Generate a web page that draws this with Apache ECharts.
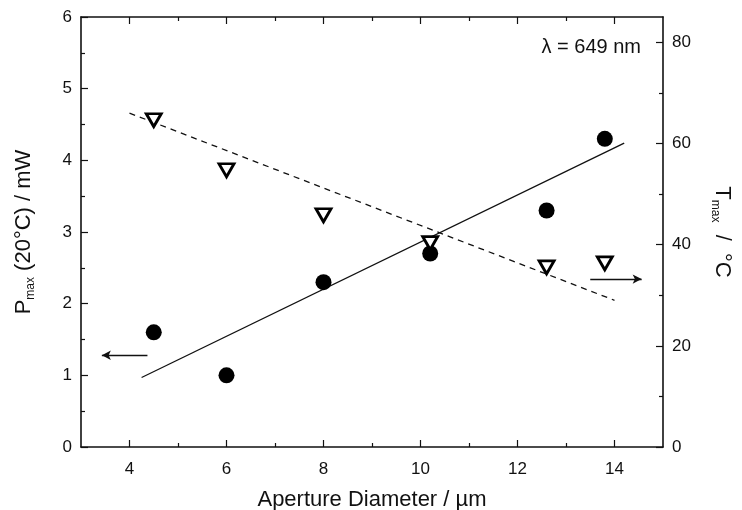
<!DOCTYPE html>
<html>
<head>
<meta charset="utf-8">
<script src="https://cdn.jsdelivr.net/npm/echarts@6/dist/echarts.min.js"></script>
<style>
  html, body { margin: 0; padding: 0; background: #fff; }
  #chart { width: 742px; height: 510px; }
</style>
</head>
<body>
<div id="chart"></div>
<script>
// aperture diameter (um)
const diameters = [4.5, 6, 8, 10.2, 12.6, 13.8];
// P_max at 20 C (mW), left axis
const powerValues = [1.6, 1.0, 2.3, 2.7, 3.3, 4.3];
// T_max (C), right axis
const tempValues = [64.6, 54.7, 45.8, 40.3, 35.5, 36.3];
// linear fit endpoints
const powerFit = [[4.25, 0.97], [14.2, 4.24]];
const tempFit = [[4.0, 66.0], [14.0, 29.0]];
// axis indicator arrows [from, to]
const powerArrow = [[4.37, 1.28], [3.43, 1.28]];
const tempArrow = [[13.5, 33.2], [14.56, 33.2]];
// tick positions
const xMajorTicks = [4, 6, 8, 10, 12, 14];
const xMinorTicks = [5, 7, 9, 11, 13];
const tempMajorTicks = [0, 20, 40, 60, 80];
const tempMinorTicks = [10, 30, 50, 70];

const FONT = 'Liberation Sans, Arial, sans-serif';
const INK = '#111';

const powerPoints = diameters.map((d, i) => [d, powerValues[i]]);
const tempPoints = diameters.map((d, i) => [d, tempValues[i]]);

// shared look for the boxed frame axes
function frameAxis(extra) {
  return Object.assign({
    type: 'value',
    axisLine: { show: true, onZero: false, lineStyle: { color: INK, width: 1.6 } },
    axisTick: { show: true, inside: true, length: 7, lineStyle: { color: INK, width: 1.2 } },
    splitLine: { show: false },
    axisLabel: { color: INK, fontSize: 17, fontFamily: FONT, margin: 9 },
    nameTextStyle: { color: INK, fontSize: 22, fontFamily: FONT }
  }, extra);
}

// x axis: major ticks on even values, minor ticks on odd ones, top and bottom
function xFrame(position, major) {
  const vals = major ? xMajorTicks : xMinorTicks;
  return frameAxis({
    min: 3, max: 15, position: position,
    axisLine: { show: major, onZero: false, lineStyle: { color: INK, width: 1.6 } },
    axisTick: { show: true, inside: true, length: major ? 7 : 4, customValues: vals, lineStyle: { color: INK, width: 1.2 } },
    axisLabel: {
      show: major && position === 'bottom', customValues: vals,
      color: INK, fontSize: 17, fontFamily: FONT, margin: 14
    }
  });
}

const richName = {
  m: { fontSize: 22, fontFamily: FONT, color: INK, lineHeight: 26 },
  s: { fontSize: 12, fontFamily: FONT, color: INK, verticalAlign: 'bottom', lineHeight: 26 }
};

const bottomAxis = xFrame('bottom', true);
bottomAxis.name = 'Aperture Diameter / µm';
bottomAxis.nameLocation = 'middle';
bottomAxis.nameGap = 42;

const chart = echarts.init(document.getElementById('chart'), null, { renderer: 'canvas' });

chart.setOption({
  animation: false,
  backgroundColor: '#fff',
  grid: { left: 81, right: 79, top: 17, bottom: 63, outerBoundsMode: 'none', containLabel: false },
  xAxis: [
    bottomAxis,
    xFrame('bottom', false),
    xFrame('top', true),
    xFrame('top', false)
  ],
  yAxis: [
    frameAxis({
      min: 0, max: 6, interval: 1, position: 'left',
      minorTick: { show: true, splitNumber: 2, length: 4, lineStyle: { color: INK, width: 1.2 } },
      name: '{m|P}{s|max}{m| (20°C) / mW}',
      nameLocation: 'middle', nameGap: 44, nameRotate: 90,
      nameTextStyle: { color: INK, fontFamily: FONT, rich: richName }
    }),
    frameAxis({
      min: 0, max: 85, position: 'right',
      axisTick: { show: true, inside: true, length: 7, customValues: tempMajorTicks, lineStyle: { color: INK, width: 1.2 } },
      axisLabel: { color: INK, fontSize: 17, fontFamily: FONT, margin: 9, customValues: tempMajorTicks },
      name: '{m|T}{s|max}{m|  /  °C}',
      nameLocation: 'middle', nameGap: 46, nameRotate: -90,
      nameTextStyle: { color: INK, fontFamily: FONT, rich: richName }
    }),
    frameAxis({
      min: 0, max: 85, position: 'right',
      axisLine: { show: false },
      axisTick: { show: true, inside: true, length: 4, customValues: tempMinorTicks, lineStyle: { color: INK, width: 1.2 } },
      axisLabel: { show: false }
    })
  ],
  graphic: [{
    type: 'text', right: 101, top: 37,
    style: { text: 'λ = 649 nm', fontSize: 20, fontFamily: FONT, fill: INK }
  }],
  series: [
    {
      name: 'P fit', type: 'line', data: powerFit, showSymbol: false, symbol: 'none',
      lineStyle: { color: INK, width: 1.3 }, z: 2,
      markLine: {
        silent: true, symbol: ['none', 'arrow'], symbolSize: [7, 9],
        label: { show: false },
        lineStyle: { color: INK, width: 1.3, type: 'solid' },
        data: [[{ coord: powerArrow[0] }, { coord: powerArrow[1] }]]
      }
    },
    {
      name: 'T fit', type: 'line', yAxisIndex: 1, data: tempFit, showSymbol: false, symbol: 'none',
      lineStyle: { color: INK, width: 1.3, type: [6, 5] }, z: 2,
      markLine: {
        silent: true, symbol: ['none', 'arrow'], symbolSize: [7, 9],
        label: { show: false },
        lineStyle: { color: INK, width: 1.3, type: 'solid' },
        data: [[{ coord: tempArrow[0] }, { coord: tempArrow[1] }]]
      }
    },
    {
      name: 'P', type: 'scatter', data: powerPoints, symbol: 'circle', symbolSize: 16,
      itemStyle: { color: '#000', opacity: 1 }, z: 3
    },
    {
      name: 'T', type: 'scatter', yAxisIndex: 1, data: tempPoints,
      symbol: 'triangle', symbolRotate: 180, symbolSize: [15, 13],
      itemStyle: { color: '#fff', borderColor: '#000', borderWidth: 2.8, opacity: 1 }, z: 3
    }
  ]
});
</script>
</body>
</html>
